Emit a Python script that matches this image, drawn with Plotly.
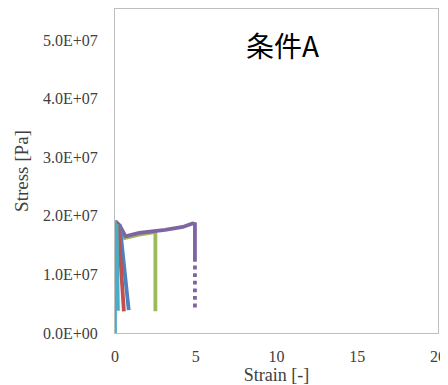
import plotly.graph_objects as go

# Strain [-] and Stress [Pa]
purple_x = [0.0, 0.3, 0.65, 1.5, 3.1, 4.2, 4.8, 4.95, 4.95]
purple_y = [1.91e7, 1.83e7, 1.65e7, 1.71e7, 1.76e7, 1.81e7, 1.87e7, 1.86e7, 1.28e7]
purple_tail_x = [4.95, 4.95]
purple_tail_y = [1.28e7, 0.39e7]
green_x = [0.2, 0.6, 1.5, 2.45, 2.5, 2.5]
green_y = [1.85e7, 1.62e7, 1.68e7, 1.72e7, 1.70e7, 0.37e7]
red_x = [0.05, 0.2, 0.55]
red_y = [1.90e7, 1.85e7, 0.37e7]
blue_x = [0.0, 0.3, 0.85]
blue_y = [1.90e7, 1.83e7, 0.39e7]
cyan_x = [0.0, 0.0]
cyan_y = [1.92e7, 0.0]
cyan2_x = [0.1, 0.18]
cyan2_y = [1.86e7, 0.38e7]

x_ticks = [0, 5, 10, 15, 20]
y_ticks = [0, 1e7, 2e7, 3e7, 4e7, 5e7]
y_ticktext = ["0.0E+00", "1.0E+07", "2.0E+07", "3.0E+07", "4.0E+07", "5.0E+07"]

fig = go.Figure()
series = [
    (green_x, green_y, "#9bbb59", "solid"),
    (purple_x, purple_y, "#8064a2", "solid"),
    (purple_tail_x, purple_tail_y, "#8064a2", "dot"),
    (blue_x, blue_y, "#4f81bd", "solid"),
    (red_x, red_y, "#c0504d", "solid"),
    (cyan2_x, cyan2_y, "#4bacc6", "solid"),
    (cyan_x, cyan_y, "#4bacc6", "solid"),
]
for xs, ys, col, dash in series:
    fig.add_trace(go.Scatter(x=xs, y=ys, mode="lines",
                             line=dict(color=col, width=3.8, dash=dash),
                             showlegend=False))

serif = "Liberation Serif"
fig.update_layout(
    width=440, height=377,
    margin=dict(l=107, r=10, t=1, b=52, autoexpand=False),
    plot_bgcolor="white", paper_bgcolor="white",
    font=dict(family=serif, size=16, color="#404040"),
)
fig.update_xaxes(range=[0, 20], tickvals=x_ticks, ticktext=[str(v) for v in x_ticks],
                 showgrid=False, zeroline=False, showline=True, mirror=True,
                 linecolor="#bfbfbf", linewidth=1, ticks="", automargin=False,
                 ticklabelstandoff=9,
                 tickfont=dict(family=serif, size=16, color="#404040"),
                 title=dict(text="Strain [-]", standoff=8,
                            font=dict(family=serif, size=18, color="#404040")))
fig.update_yaxes(range=[0, 5.53e7], tickvals=y_ticks, ticktext=y_ticktext,
                 showgrid=False, zeroline=False, showline=True, mirror=True,
                 linecolor="#bfbfbf", linewidth=1, ticks="", automargin=False,
                 ticklabelstandoff=13,
                 tickfont=dict(family=serif, size=16, color="#404040"),
                 title=dict(text="Stress [Pa]", standoff=9,
                            font=dict(family=serif, size=19, color="#404040")))
fig.add_annotation(text="条件A", xref="paper", yref="paper", x=0.52, y=0.889,
                   showarrow=False, xanchor="center", yanchor="middle",
                   font=dict(family="Noto Sans CJK JP", size=28, color="black"))
fig.write_html("out.html")
